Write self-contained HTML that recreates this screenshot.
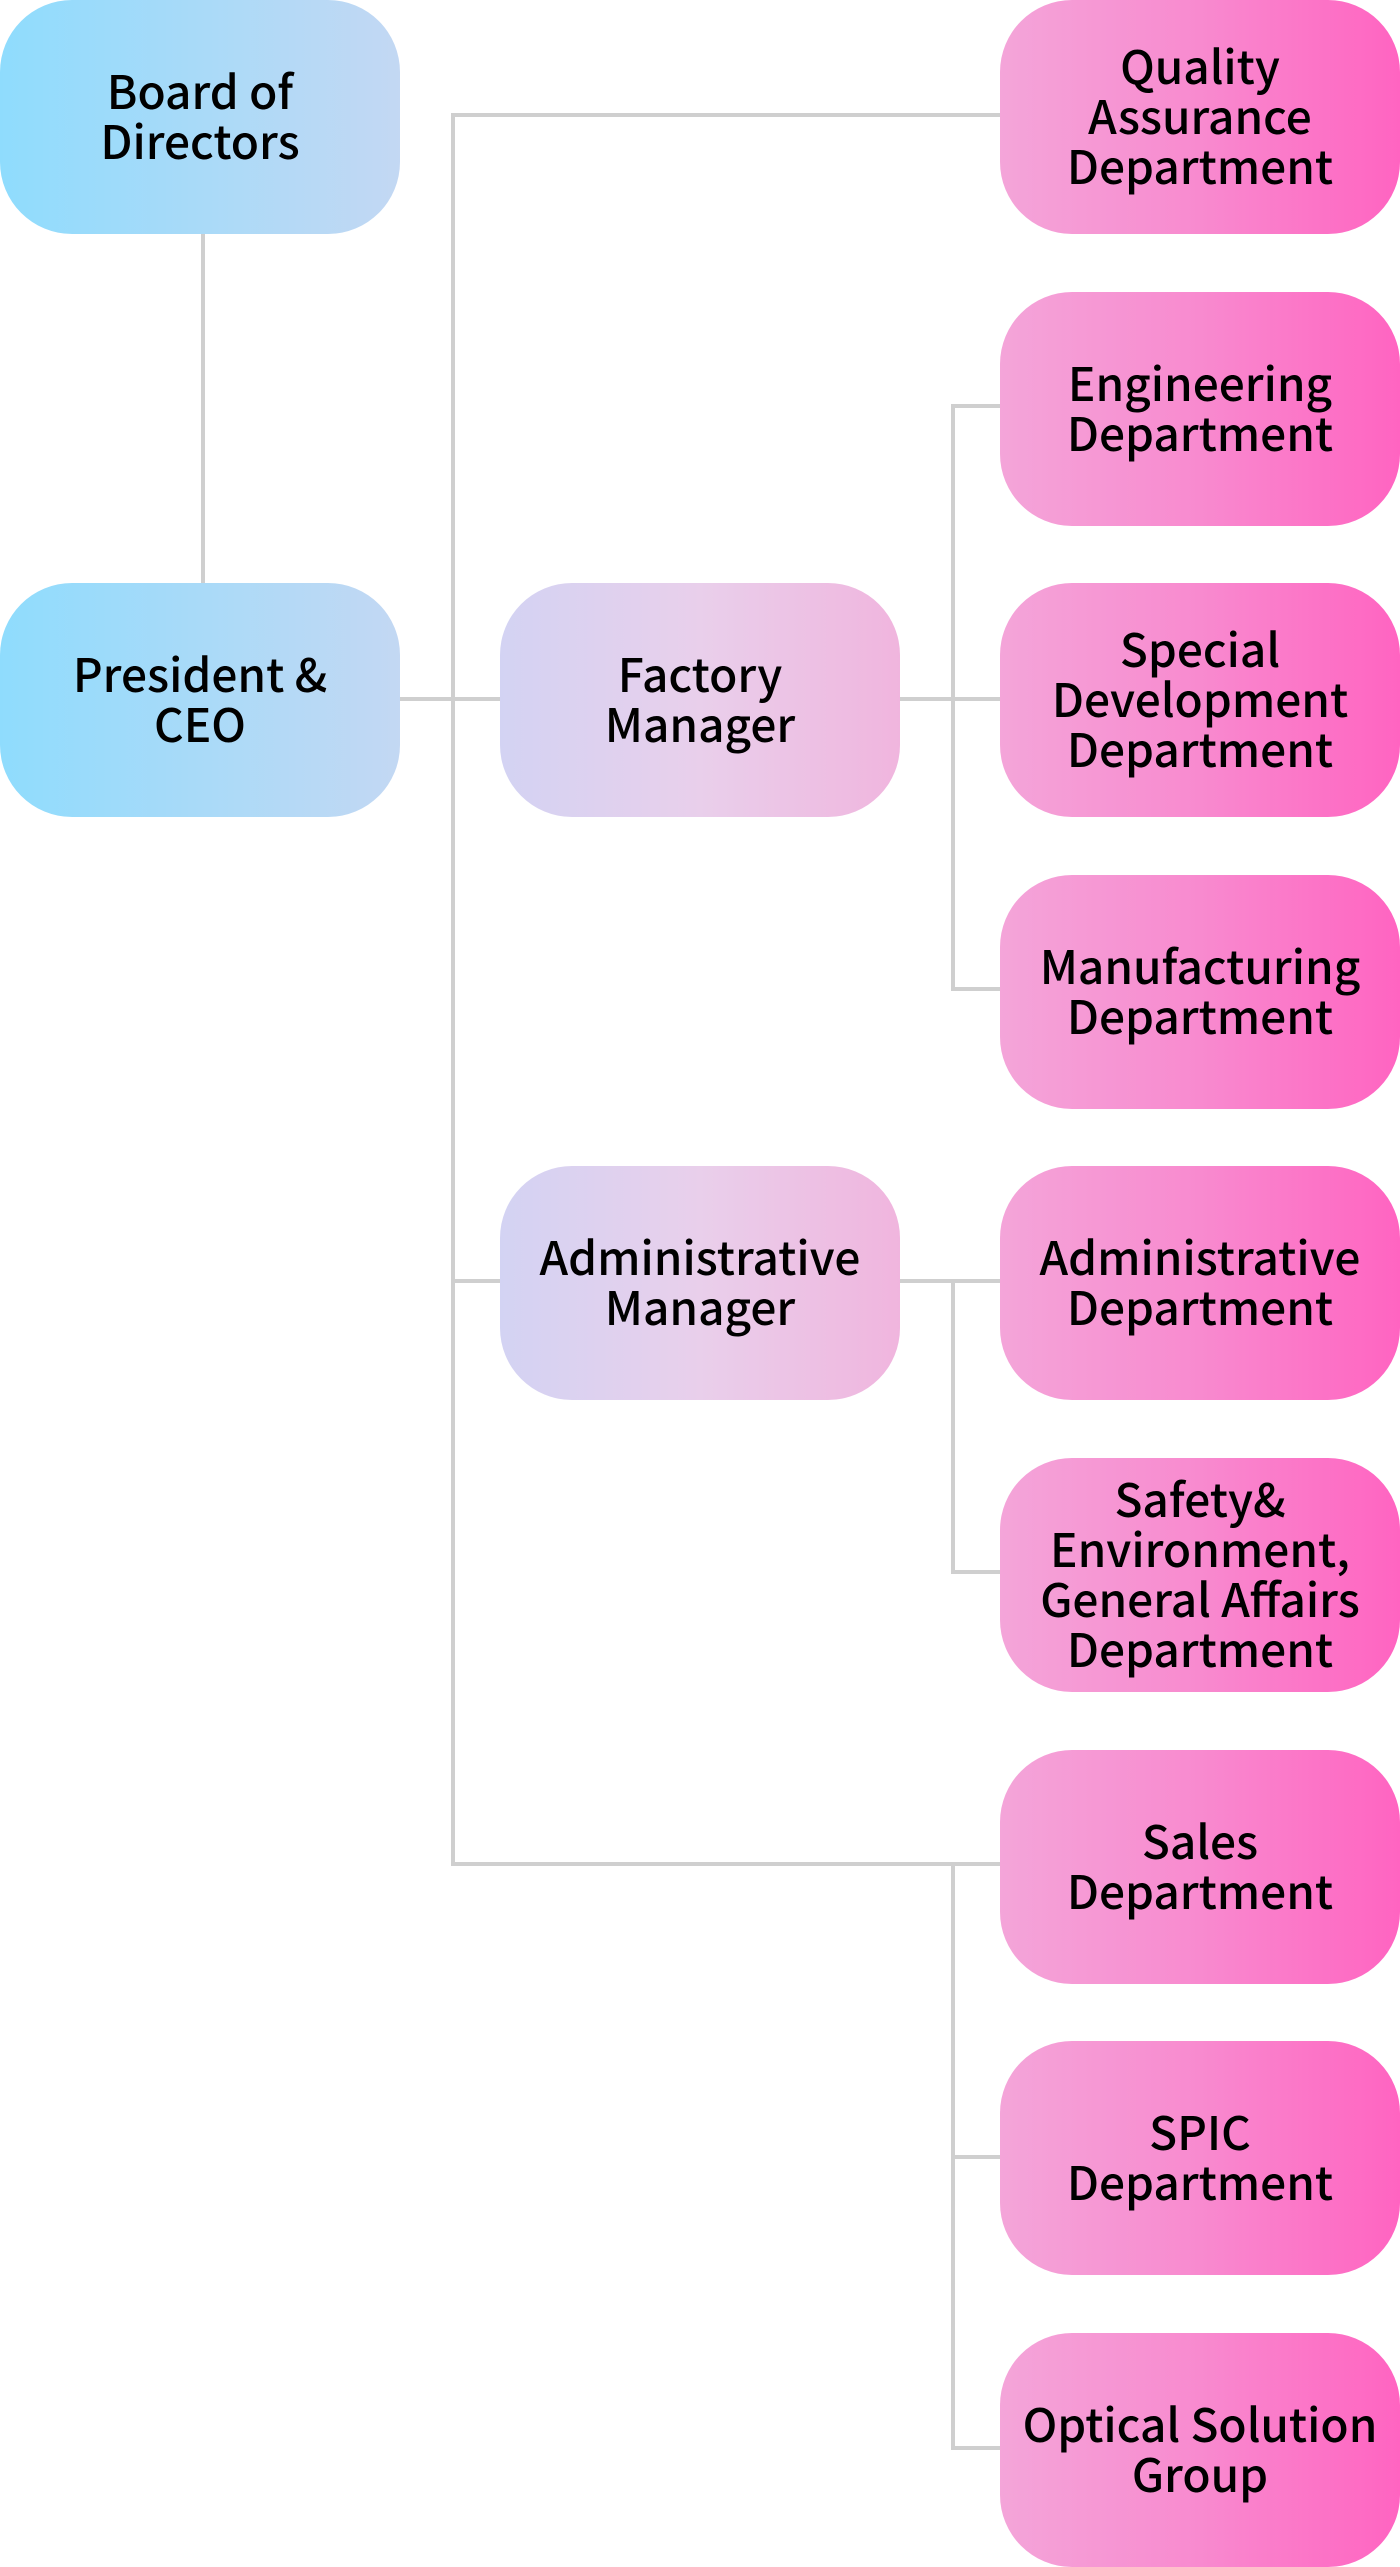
<!DOCTYPE html>
<html><head><meta charset="utf-8"><style>
html,body{margin:0;padding:0;background:#fff;}
body{width:1400px;height:2567px;position:relative;overflow:hidden;font-family:"Noto Sans CJK JP","Liberation Sans",sans-serif;}
.b{position:absolute;width:400px;height:234px;box-sizing:border-box;padding-bottom:5px;border-radius:72px;display:flex;align-items:center;justify-content:center;text-align:center;font-size:46px;font-weight:500;line-height:50px;color:#000;}
.blue{left:0;background:linear-gradient(90deg,#8fdcfd,#c3d8f3);}
.mid{left:500px;background:linear-gradient(90deg,#d3d3f3,#e9cfeb,#f0b5de);}
.pink{left:1000px;background:linear-gradient(90deg,#f4a5d9,#f88acf,#ff64c1);}
.h,.v{position:absolute;background:#cfcfcf;}
.h{height:4px;}
.v{width:4px;}
</style></head><body>
<div class="v" style="left:201px;top:234px;height:350px"></div>
<div class="v" style="left:451px;top:113px;height:1752px"></div>
<div class="h" style="left:451px;top:113px;width:560px"></div>
<div class="h" style="left:400px;top:697px;width:110px"></div>
<div class="h" style="left:900px;top:697px;width:110px"></div>
<div class="v" style="left:951px;top:404px;height:586px"></div>
<div class="h" style="left:951px;top:404px;width:60px"></div>
<div class="h" style="left:951px;top:987px;width:60px"></div>
<div class="h" style="left:451px;top:1279px;width:60px"></div>
<div class="h" style="left:900px;top:1279px;width:110px"></div>
<div class="v" style="left:951px;top:1279px;height:294px"></div>
<div class="h" style="left:951px;top:1570px;width:60px"></div>
<div class="h" style="left:451px;top:1862px;width:560px"></div>
<div class="v" style="left:951px;top:1862px;height:588px"></div>
<div class="h" style="left:951px;top:2155px;width:60px"></div>
<div class="h" style="left:951px;top:2446px;width:60px"></div>
<div class="b blue" style="top:0">Board of<br>Directors</div>
<div class="b blue" style="top:583px">President &amp;<br>CEO</div>
<div class="b mid" style="top:583px">Factory<br>Manager</div>
<div class="b mid" style="top:1166px">Administrative<br>Manager</div>
<div class="b pink" style="top:0">Quality<br>Assurance<br>Department</div>
<div class="b pink" style="top:292px">Engineering<br>Department</div>
<div class="b pink" style="top:583px">Special<br>Development<br>Department</div>
<div class="b pink" style="top:875px">Manufacturing<br>Department</div>
<div class="b pink" style="top:1166px">Administrative<br>Department</div>
<div class="b pink" style="top:1458px">Safety&amp;<br>Environment,<br>General Affairs<br>Department</div>
<div class="b pink" style="top:1750px">Sales<br>Department</div>
<div class="b pink" style="top:2041px">SPIC<br>Department</div>
<div class="b pink" style="top:2333px">Optical Solution<br>Group</div>
</body></html>
